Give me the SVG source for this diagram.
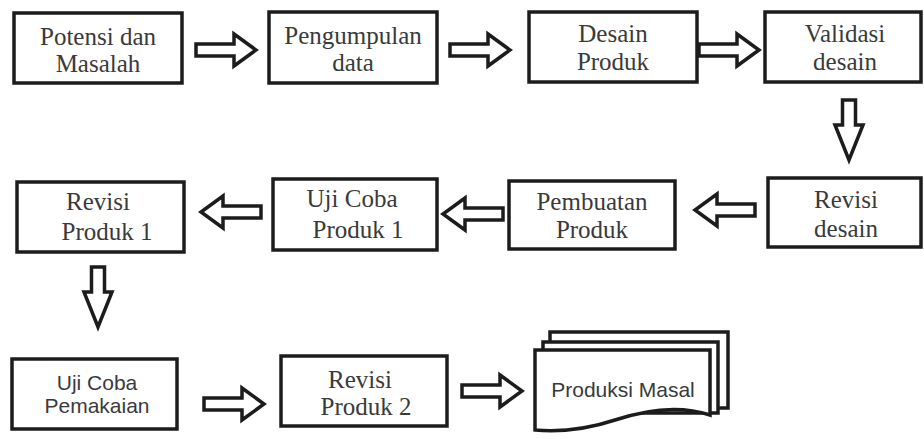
<svg xmlns="http://www.w3.org/2000/svg" width="924" height="439" viewBox="0 0 924 439">
<style>
.box{fill:#fff;stroke:#1c1c1c;stroke-width:3.5}
.ar{fill:#fff;stroke:#1c1c1c;stroke-width:3.5;stroke-linejoin:miter}
.t{font-family:"Liberation Serif","Times New Roman",serif;font-size:25px;fill:#3a3a3a;text-anchor:middle}
.s{font-family:"Liberation Sans",Arial,sans-serif;font-size:21px;fill:#3a3a3a;text-anchor:middle}
</style>
<defs>
<path id="rh" d="M0,-6 H38 V-16 L60,0 L38,16 V6 H0 Z"/>
<path id="dn" d="M-6.5,0 H6.5 V25 H14 L0,60 L-14,25 H-6.5 Z"/>
</defs>
<g id="connectors">
<use href="#rh" class="ar" transform="translate(196,50)"/>
<use href="#rh" class="ar" transform="translate(450,50)"/>
<use href="#rh" class="ar" transform="translate(699,50)"/>
<use href="#dn" class="ar" transform="translate(849,100)"/>
<use href="#rh" class="ar" transform="translate(755,210) rotate(180)"/>
<use href="#rh" class="ar" transform="translate(503,214) rotate(180)"/>
<use href="#rh" class="ar" transform="translate(261,212) rotate(180)"/>
<use href="#dn" class="ar" transform="translate(98,267)"/>
<use href="#rh" class="ar" transform="translate(204,404)"/>
<use href="#rh" class="ar" transform="translate(462,391)"/>
</g>
<g id="n1"><rect class="box" x="14" y="13" width="168" height="70"/><text class="t" x="98" y="45">Potensi dan</text><text class="t" x="98" y="72">Masalah</text></g>
<g id="n2"><rect class="box" x="269" y="12" width="168" height="71"/><text class="t" x="353" y="44">Pengumpulan</text><text class="t" x="353" y="71">data</text></g>
<g id="n3"><rect class="box" x="529" y="12" width="168" height="70"/><text class="t" x="613" y="42">Desain</text><text class="t" x="613" y="70">Produk</text></g>
<g id="n4"><rect class="box" x="765" y="12" width="156" height="70"/><text class="t" x="845" y="42">Validasi</text><text class="t" x="845" y="70">desain</text></g>
<g id="n5"><rect class="box" x="768" y="178" width="153" height="69"/><text class="t" x="846" y="208">Revisi</text><text class="t" x="846" y="237">desain</text></g>
<g id="n6"><rect class="box" x="509" y="181" width="166" height="68"/><text class="t" x="592" y="210">Pembuatan</text><text class="t" x="592" y="238">Produk</text></g>
<g id="n7"><rect class="box" x="273" y="179" width="164" height="71"/><text class="t" x="352" y="207">Uji Coba</text><text class="t" x="358" y="238">Produk 1</text></g>
<g id="n8"><rect class="box" x="17" y="182" width="167" height="70"/><text class="t" x="98" y="210">Revisi</text><text class="t" x="107" y="240">Produk 1</text></g>
<g id="n9"><rect class="box" x="12" y="359" width="165" height="70"/><text class="s" x="97" y="390">Uji Coba</text><text class="s" x="97" y="413">Pemakaian</text></g>
<g id="n10"><rect class="box" x="281" y="356" width="166" height="70"/><text class="t" x="360" y="388">Revisi</text><text class="t" x="366" y="415">Produk 2</text></g>
<g id="n11">
<rect class="box" x="550" y="332" width="178" height="76"/>
<rect class="box" x="543" y="342" width="175" height="71"/>
<path class="box" d="M535,350 H710 V415 C680,405 645,410 615,420 C585,430 560,432 535,430 Z"/>
<text class="s" x="623" y="397">Produksi Masal</text>
</g>
</svg>
